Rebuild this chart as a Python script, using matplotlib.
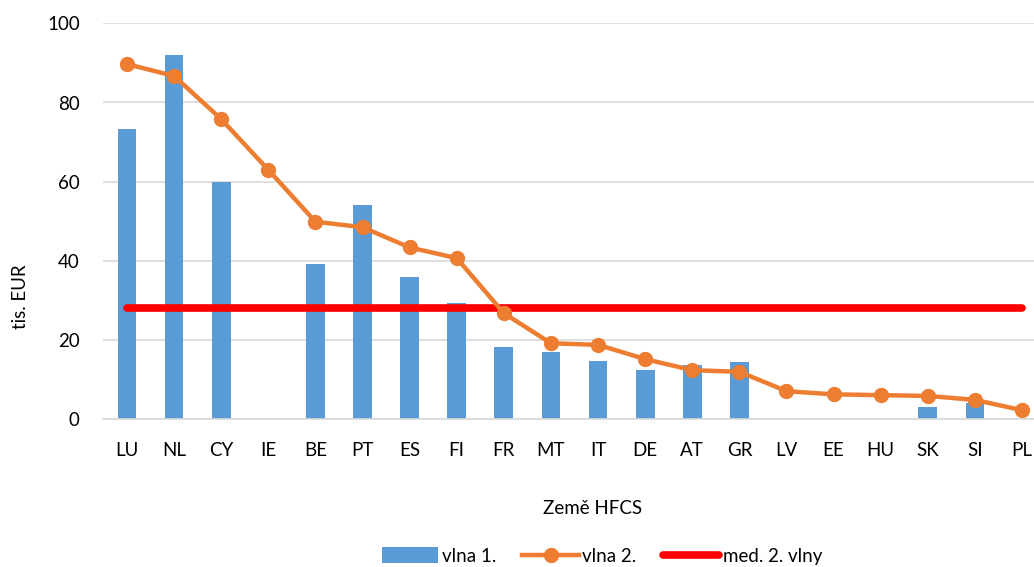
import matplotlib
matplotlib.use("Agg")
import matplotlib.pyplot as plt
from matplotlib.patches import Patch
from matplotlib.lines import Line2D

categories = ["LU", "NL", "CY", "IE", "BE", "PT", "ES", "FI", "FR", "MT",
              "IT", "DE", "AT", "GR", "LV", "EE", "HU", "SK", "SI", "PL"]
wave1 = [73.3, 91.9, 60.0, None, 39.2, 54.1, 35.9, 29.3, 18.3, 16.9,
         14.8, 12.4, 13.6, 14.4, None, None, None, 3.0, 4.0, None]
wave2 = [89.7, 86.7, 75.8, 63.0, 49.9, 48.5, 43.4, 40.7, 26.8, 19.2,
         18.8, 15.2, 12.4, 12.0, 7.1, 6.3, 6.1, 5.9, 4.9, 2.3]
median2 = 28.2
yticks = [0, 20, 40, 60, 80, 100]

plt.rcParams['font.family'] = ['Lato', 'DejaVu Sans']

W, H = 1034, 567
fig = plt.figure(figsize=(W / 100, H / 100), dpi=100)
left, right = 103.4, 1045.6
bottom, top = 419.3, 23.3
ax = fig.add_axes([left / W, 1 - bottom / H, (right - left) / W, (bottom - top) / H])

x = list(range(len(categories)))
bx = [i for i, v in zip(x, wave1) if v is not None]
bv = [v for v in wave1 if v is not None]
ax.bar(bx, bv, width=0.4, color="#5B9BD5", zorder=2)
ax.plot(x, wave2, color="#ED7D31", lw=3.2, marker="o", markersize=10,
        zorder=4, solid_capstyle="round")
ax.plot([x[0], x[-1]], [median2, median2], color="#FF0000", lw=5.5,
        solid_capstyle="round", zorder=3)

ax.set_xlim(-0.5, len(categories) - 0.5)
ax.set_ylim(0, 100)
ax.set_yticks(yticks)
ax.set_xticks(x)
ax.set_xticklabels(categories)
ax.yaxis.grid(True, color="#D9D9D9", lw=1.2, zorder=0)
ax.set_axisbelow(True)
for s in ["top", "right", "left"]:
    ax.spines[s].set_visible(False)
ax.spines["bottom"].set_color("#D9D9D9")
ax.spines["bottom"].set_linewidth(1.2)
ax.tick_params(axis="both", length=0, labelsize=13.5, colors="#000000")
ax.tick_params(axis="x", pad=16)
ax.tick_params(axis="y", pad=17)

fig.text(20 / W, 1 - 297 / H, "tis. EUR", rotation=90, ha="center", va="center", fontsize=13.5)
fig.text(593 / W, 1 - 508 / H, "Země HFCS", ha="center", va="center", fontsize=13.5)

handles = [
    Patch(facecolor="#5B9BD5"),
    Line2D([0], [0], color="#ED7D31", lw=3.2, marker="o", markersize=10),
    Line2D([0], [0], color="#FF0000", lw=5.5, solid_capstyle="round"),
]
fig.legend(handles, ["vlna 1.", "vlna 2.", "med. 2. vlny"], loc="center",
           bbox_to_anchor=(602 / W, 1 - 556 / H), ncol=3, frameon=False,
           fontsize=13.5, handlelength=3.0, handletextpad=0.2, columnspacing=1.4,
           handleheight=0.9)

fig.savefig("out.png", dpi=100)
